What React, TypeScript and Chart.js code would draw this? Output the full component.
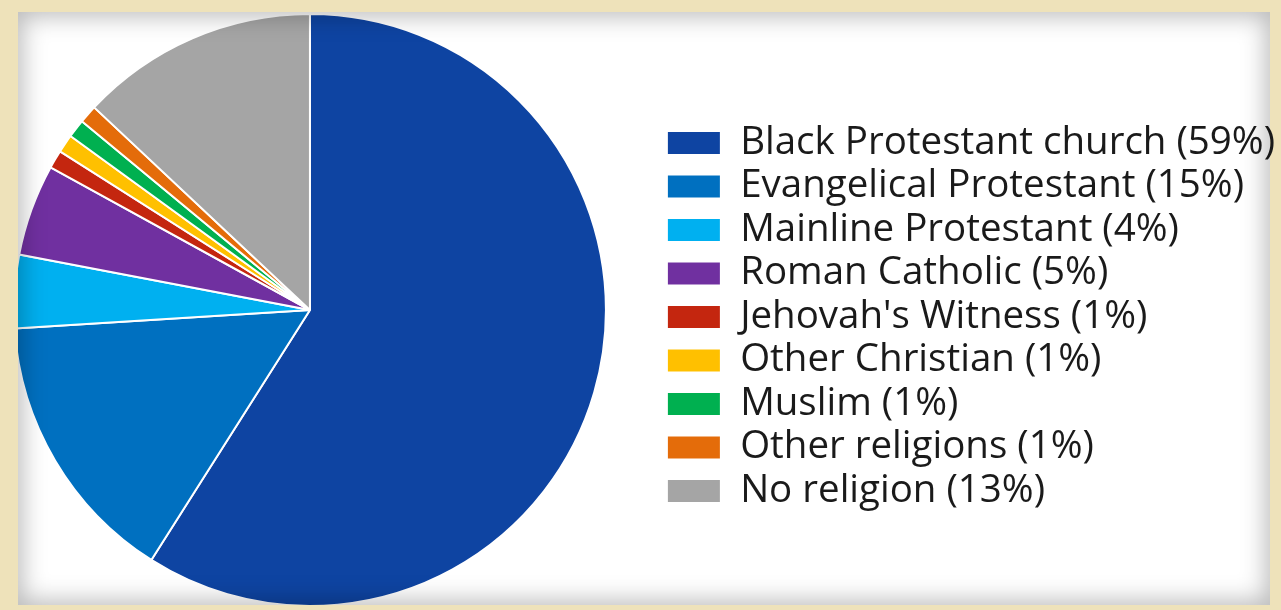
import React, { useEffect, useRef } from "react";
import { Chart, registerables } from "chart.js";

Chart.register(...registerables);

const categories = [
  "Black Protestant church",
  "Evangelical Protestant",
  "Mainline Protestant",
  "Roman Catholic",
  "Jehovah's Witness",
  "Other Christian",
  "Muslim",
  "Other religions",
  "No religion",
];
const shares = [59, 15, 4, 5, 1, 1, 1, 1, 13];
const sliceColors = [
  "#0e44a2",
  "#0070c0",
  "#00b0f0",
  "#7030a0",
  "#c4260f",
  "#ffc000",
  "#00b050",
  "#e46c0a",
  "#a5a5a5",
];
const legendLabels = categories.map((c, i) => `${c} (${shares[i]}%)`);

export default function App() {
  const ref = useRef<HTMLCanvasElement>(null);

  useEffect(() => {
    document.body.style.margin = "0";
    const chart = new Chart(ref.current!, {
      type: "pie",
      data: {
        labels: legendLabels,
        datasets: [
          {
            data: shares,
            backgroundColor: sliceColors,
            borderColor: "#ffffff",
            borderWidth: 2,
          },
        ],
      },
      options: {
        responsive: false,
        animation: false,
        devicePixelRatio: 1,
        layout: { padding: { left: 7, right: 0, top: 13, bottom: 3 } },
        plugins: {
          legend: {
            position: "right",
            title: {
              display: true,
              text: "",
              font: { size: 10 },
              padding: { top: 1, bottom: 1 },
            },
            labels: {
              boxWidth: 54,
              boxHeight: 24,
              padding: 5,
              color: "#1a1a1a",
              font: { family: "'Open Sans'", size: 38.5 },
            },
          },
          tooltip: { enabled: false },
        },
      },
    });
    return () => chart.destroy();
  }, []);

  return (
    <div
      style={{
        position: "fixed",
        left: 0,
        top: 0,
        width: 1281,
        height: 610,
        background: "#eee2ba",
        overflow: "hidden",
      }}
    >
      <div
        style={{
          position: "absolute",
          left: 18,
          top: 12,
          width: 1252,
          height: 593,
          background: "#ffffff",
        }}
      />
      <div
        style={{
          position: "absolute",
          left: 18,
          top: 12,
          width: 1263,
          height: 593,
          overflow: "hidden",
        }}
      >
        <canvas
          ref={ref}
          width={1334}
          height={610}
          style={{ position: "absolute", left: -67, top: -12, width: 1334, height: 610 }}
        />
      </div>
      <div
        style={{
          position: "absolute",
          left: 18,
          top: 12,
          width: 1252,
          height: 593,
          boxShadow: "inset 0 0 24px 4px rgba(0,0,0,0.28)",
          pointerEvents: "none",
        }}
      />
    </div>
  );
}
